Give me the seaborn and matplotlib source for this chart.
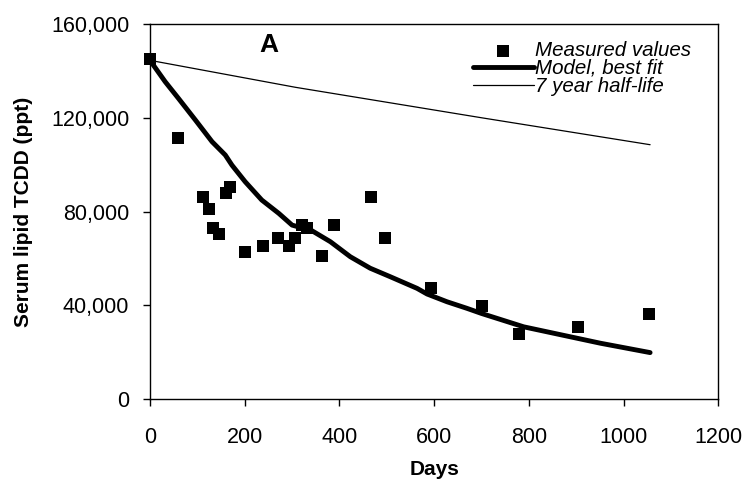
import matplotlib
matplotlib.use("Agg")
import matplotlib.pyplot as plt
import matplotlib.ticker as mticker
import pandas as pd
import seaborn as sns

# measured serum lipid TCDD (ppt) vs days
measured_days = [0, 60, 113, 124, 133, 145, 161, 168, 201, 239, 270, 294, 307,
                 321, 332, 363, 388, 467, 497, 593, 700, 780, 903, 1053]
measured_ppt = [145000, 111200, 86300, 81100, 73100, 70400, 88000, 90600, 62800,
                65300, 68600, 65400, 68600, 74200, 73000, 61000, 74200, 86300,
                68600, 47500, 39700, 27600, 30800, 36300]

# model, best fit
model_days = [0, 32, 60, 96, 131, 159, 173, 201, 236, 272, 300, 342, 381, 423,
              465, 507, 564, 585, 627, 669, 700, 789, 951, 1056]
model_ppt = [144500, 135400, 128300, 119000, 109800, 104100, 99800, 92700, 84900,
             79200, 74200, 71800, 67100, 60700, 55800, 52200, 47200, 44800, 41500,
             38700, 36500, 30800, 23800, 19800]

# 7 year half-life reference line
halflife_days = [0, 307, 700, 1056]
halflife_ppt = [144500, 133000, 120000, 108500]

df_meas = pd.DataFrame({"Days": measured_days, "ppt": measured_ppt})
df_model = pd.DataFrame({"Days": model_days, "ppt": model_ppt})
df_half = pd.DataFrame({"Days": halflife_days, "ppt": halflife_ppt})

sns.set_style("ticks")
plt.rcParams["font.family"] = ["Liberation Sans", "DejaVu Sans"]
plt.rcParams["text.color"] = "black"
plt.rcParams["axes.labelcolor"] = "black"

fig = plt.figure(figsize=(7.48, 4.87), dpi=100)
ax = fig.add_axes([0.2005, 0.1807, 0.7598, 0.770])

sns.scatterplot(data=df_meas, x="Days", y="ppt", marker="s", s=70, color="black",
                edgecolor="black", linewidth=0, ax=ax, label="Measured values",
                clip_on=False, zorder=3)
sns.lineplot(data=df_model, x="Days", y="ppt", color="black", linewidth=3.5,
             ax=ax, label="Model, best fit", sort=False)
sns.lineplot(data=df_half, x="Days", y="ppt", color="black", linewidth=0.9,
             ax=ax, label="7 year half-life", sort=False)

ax.set_xlim(0, 1200)
ax.set_ylim(0, 160000)
ax.set_xticks(range(0, 1201, 200))
ax.set_yticks(range(0, 160001, 40000))
ax.yaxis.set_major_formatter(mticker.FuncFormatter(lambda v, p: f"{v:,.0f}"))

for side in ["top", "right", "left", "bottom"]:
    ax.spines[side].set_color("black")
    ax.spines[side].set_linewidth(1.0)

ax.tick_params(axis="both", direction="out", length=5, width=1, color="black",
               labelsize=15.5, labelcolor="black")
ax.tick_params(axis="x", pad=15)
ax.tick_params(axis="y", pad=10)

ax.set_xlabel("Days", fontsize=15, fontweight="bold")
ax.set_ylabel("Serum lipid TCDD (ppt)", fontsize=15, fontweight="bold")
ax.xaxis.set_label_coords(0.5, -0.163)
ax.yaxis.set_label_coords(-0.205, 0.5)

ax.text(251, 151000, "A", fontsize=19, fontweight="bold", ha="center", va="center")

leg = ax.legend(loc="upper right", bbox_to_anchor=(0.985, 1.004), frameon=False,
                handlelength=3.0, handletextpad=0.05, labelspacing=-0.05,
                prop={"size": 14.8, "style": "italic"}, scatterpoints=1)

fig.savefig("out.png", dpi=100)
